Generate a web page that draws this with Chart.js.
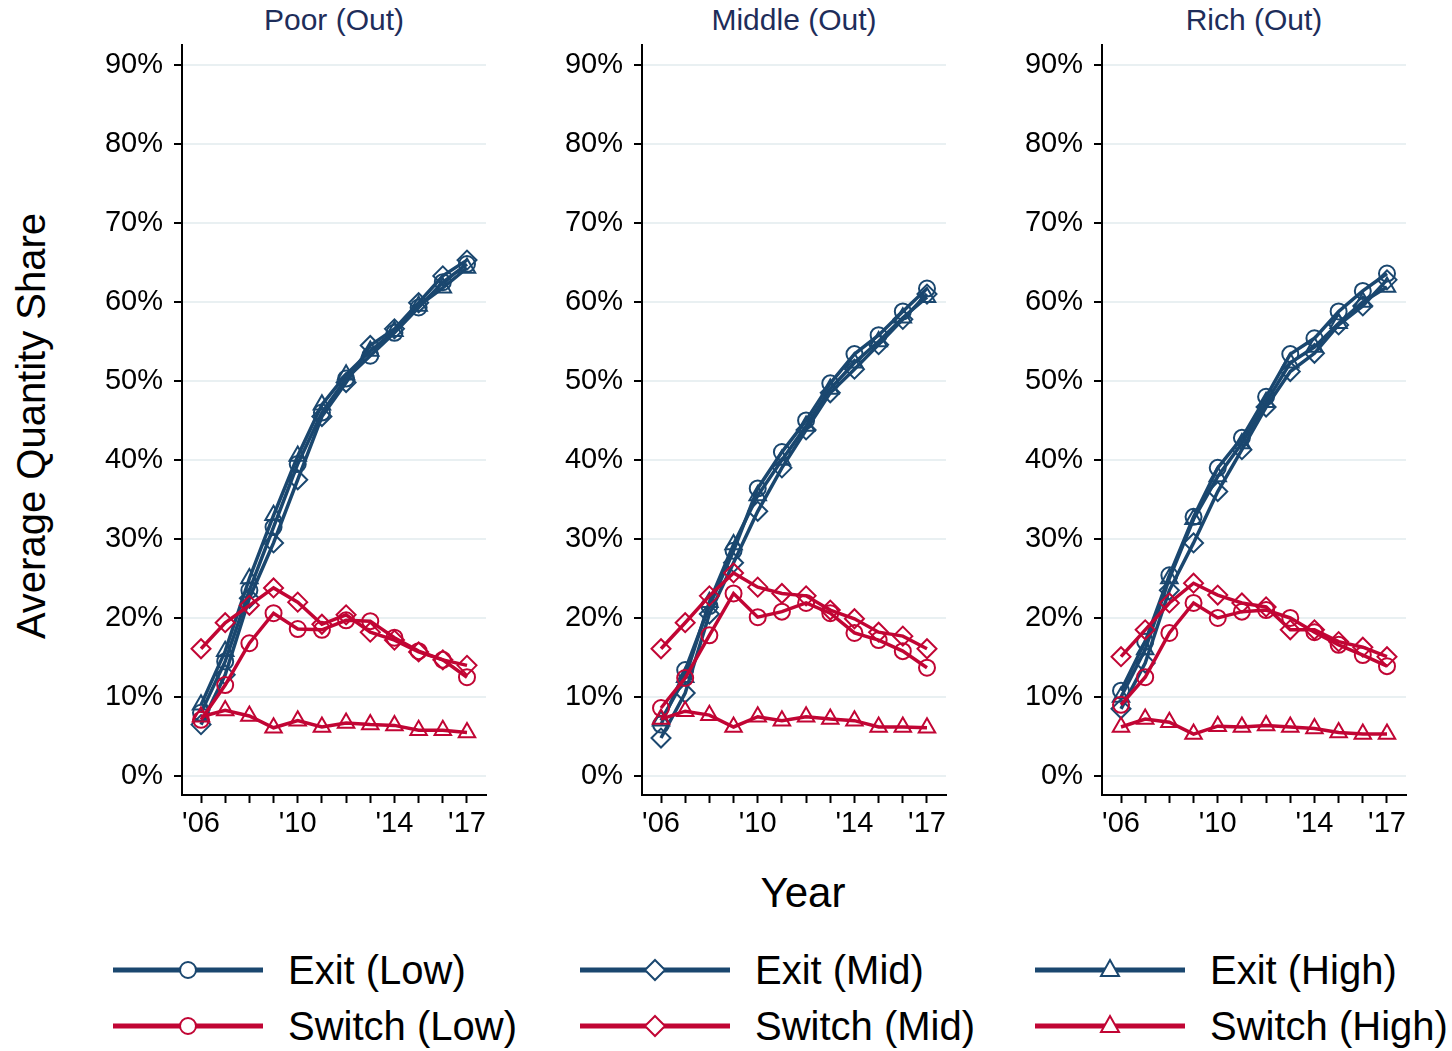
<!DOCTYPE html>
<html>
<head>
<meta charset="utf-8">
<title>Average Quantity Share</title>
<script src="https://cdn.jsdelivr.net/npm/chart.js@4.4.0/dist/chart.umd.min.js"></script>
<style>
    body {
        margin: 0;
        width: 1452px;
        height: 1051px;
        overflow: hidden;
        position: relative;
        background: #fff;
        font-family: "Liberation Sans", Arial, sans-serif;
        color: #000;
    }
    .panel { position: absolute; top: 0; }
    .ptitle {
        position: absolute;
        top: 0;
        width: 304px;
        line-height: 40px;
        text-align: center;
        font-size: 30px;
        color: #1e2d5a;
        white-space: nowrap;
    }
    .axtitle {
        position: absolute;
        font-size: 40px;
        white-space: nowrap;
        transform: translate(-50%, -50%);
    }
    .legend-item { position: absolute; height: 40px; }
    .legend-item svg { position: absolute; left: 0; top: 5px; }
    .legend-item span {
        position: absolute;
        left: 175px;
        top: 0;
        line-height: 40px;
        font-size: 40px;
        white-space: nowrap;
    }
</style>
</head>
<body>

<div class="axtitle" style="left:31px; top:426px; transform:translate(-50%,-50%) rotate(-90deg);">Average Quantity Share</div>
<div class="axtitle" style="left:803px; top:893px; font-size:42px;">Year</div>

<div id="panels"></div>
<div id="legend"></div>

<script>
    'use strict';

    // ---- data (percent) ----
    const YEARS = [2006, 2007, 2008, 2009, 2010, 2011, 2012, 2013, 2014, 2015, 2016, 2017];
    const X_TICK_LABELS = { 2006: "'06", 2010: "'10", 2014: "'14", 2017: "'17" };
    const Y_TICKS = [0, 10, 20, 30, 40, 50, 60, 70, 80, 90];
    const PANEL_TITLES = ['Poor (Out)', 'Middle (Out)', 'Rich (Out)'];
    const SERIES_LABELS = ['Exit (Low)', 'Switch (Low)', 'Exit (Mid)', 'Switch (Mid)', 'Exit (High)', 'Switch (High)'];

    // Poor (Out)
    const POOR_EXIT_LOW     = [8.0, 14.5, 23.5, 31.5, 39.5, 46.0, 50.3, 53.2, 56.1, 59.3, 62.5, 64.8];
    const POOR_SWITCH_LOW   = [7.1, 11.5, 16.8, 20.6, 18.6, 18.5, 19.7, 19.6, 17.5, 15.8, 14.7, 12.5];
    const POOR_EXIT_MID     = [6.5, 12.8, 22.5, 29.5, 37.5, 45.5, 49.8, 54.5, 56.6, 59.9, 63.3, 65.3];
    const POOR_SWITCH_MID   = [16.1, 19.4, 21.6, 23.8, 22.0, 19.2, 20.4, 18.2, 17.2, 15.7, 14.7, 14.0];
    const POOR_EXIT_HIGH    = [9.0, 15.8, 25.0, 33.0, 40.5, 47.0, 50.8, 53.8, 56.3, 59.5, 61.8, 64.3];
    const POOR_SWITCH_HIGH  = [7.5, 8.3, 7.6, 6.1, 7.0, 6.2, 6.7, 6.5, 6.4, 5.8, 5.8, 5.5];

    // Middle (Out)
    const MID_EXIT_LOW      = [6.5, 13.4, 21.5, 28.5, 36.4, 41.0, 45.0, 49.7, 53.4, 55.8, 58.8, 61.7];
    const MID_SWITCH_LOW    = [8.6, 12.4, 17.8, 23.1, 20.1, 20.8, 21.9, 20.6, 18.1, 17.2, 15.8, 13.7];
    const MID_EXIT_MID      = [4.8, 10.5, 20.5, 27.0, 33.5, 39.0, 43.8, 48.5, 51.5, 54.6, 57.8, 61.0];
    const MID_SWITCH_MID    = [16.1, 19.4, 22.8, 25.7, 23.9, 23.1, 22.8, 21.0, 19.9, 18.2, 17.7, 16.1];
    const MID_EXIT_HIGH     = [7.0, 12.5, 22.0, 29.3, 35.5, 40.0, 44.3, 49.0, 52.3, 55.0, 58.0, 60.6];
    const MID_SWITCH_HIGH   = [7.2, 8.2, 7.7, 6.2, 7.5, 7.0, 7.5, 7.2, 7.0, 6.2, 6.2, 6.1];

    // Rich (Out)
    const RICH_EXIT_LOW     = [10.8, 17.0, 25.4, 32.8, 39.0, 42.8, 48.0, 53.4, 55.4, 58.8, 61.4, 63.6];
    const RICH_SWITCH_LOW   = [9.0, 12.5, 18.1, 21.9, 20.0, 20.8, 21.0, 20.0, 18.2, 16.6, 15.3, 13.9];
    const RICH_EXIT_MID     = [8.5, 14.3, 23.5, 29.5, 36.0, 41.3, 46.7, 51.2, 53.5, 57.1, 59.5, 62.8];
    const RICH_SWITCH_MID   = [15.1, 18.5, 21.9, 24.4, 22.9, 21.9, 21.4, 18.5, 18.5, 17.0, 16.3, 15.1];
    const RICH_EXIT_HIGH    = [10.0, 16.0, 25.0, 32.5, 37.9, 42.1, 47.3, 52.3, 54.3, 57.3, 60.0, 61.9];
    const RICH_SWITCH_HIGH  = [6.2, 7.2, 6.8, 5.3, 6.3, 6.2, 6.4, 6.2, 6.0, 5.5, 5.3, 5.3];

    const PANEL_DATA = [
        [POOR_EXIT_LOW, POOR_SWITCH_LOW, POOR_EXIT_MID, POOR_SWITCH_MID, POOR_EXIT_HIGH, POOR_SWITCH_HIGH],
        [MID_EXIT_LOW, MID_SWITCH_LOW, MID_EXIT_MID, MID_SWITCH_MID, MID_EXIT_HIGH, MID_SWITCH_HIGH],
        [RICH_EXIT_LOW, RICH_SWITCH_LOW, RICH_EXIT_MID, RICH_SWITCH_MID, RICH_EXIT_HIGH, RICH_SWITCH_HIGH]
    ];

    // ---- styles ----
    const NAVY = '#1a476f';
    const CRANBERRY = '#c10534';
    const SERIES_COLORS = [NAVY, CRANBERRY, NAVY, CRANBERRY, NAVY, CRANBERRY];
    const SERIES_MARKERS = ['circle', 'circle', 'rectRot', 'rectRot', 'triangle', 'triangle'];
    const MARKER_RADIUS = { circle: 8, rectRot: 9.5, triangle: 9.5 };

    const FONT = '"Liberation Sans", Arial, sans-serif';
    Chart.defaults.font.family = FONT;
    Chart.defaults.color = '#000';

    const PANEL_LEFT = [60, 520, 980];
    const CANVAS_W = 430;
    const CANVAS_H = 815;
    const Y_AXIS_W = 122;

    function buildPanel(idx) {
        const wrap = document.createElement('div');
        wrap.className = 'panel';
        wrap.style.left = PANEL_LEFT[idx] + 'px';

        const title = document.createElement('div');
        title.className = 'ptitle';
        title.style.left = Y_AXIS_W + 'px';
        title.textContent = PANEL_TITLES[idx];
        wrap.appendChild(title);

        const canvas = document.createElement('canvas');
        canvas.width = CANVAS_W;
        canvas.height = CANVAS_H;
        canvas.style.position = 'absolute';
        canvas.style.left = '0px';
        canvas.style.top = '40px';
        wrap.appendChild(canvas);
        document.getElementById('panels').appendChild(wrap);

        const datasets = PANEL_DATA[idx].map((values, i) => ({
            label: SERIES_LABELS[i],
            data: YEARS.map((yr, j) => ({ x: yr, y: values[j] })),
            borderColor: SERIES_COLORS[i],
            backgroundColor: 'transparent',
            borderWidth: 3.5,
            tension: 0,
            pointStyle: SERIES_MARKERS[i],
            pointRadius: MARKER_RADIUS[SERIES_MARKERS[i]],
            pointBorderWidth: 2,
            pointBorderColor: SERIES_COLORS[i],
            pointBackgroundColor: 'transparent',
            // red series drawn above the blue ones
            order: SERIES_COLORS[i] === CRANBERRY ? 0 : 1
        }));

        new Chart(canvas, {
            type: 'line',
            data: { datasets },
            options: {
                responsive: false,
                animation: false,
                events: [],
                layout: { autoPadding: false, padding: { top: 5, right: 4, left: 0, bottom: 0 } },
                plugins: { legend: { display: false }, tooltip: { enabled: false } },
                scales: {
                    x: {
                        type: 'linear',
                        min: 2005.214,
                        max: 2017.786,
                        afterBuildTicks: scale => { scale.ticks = YEARS.map(v => ({ value: v })); },
                        afterFit: scale => {
                            scale.height = 60;
                            scale.paddingLeft = 0;
                            scale.paddingRight = 0;
                        },
                        ticks: {
                            autoSkip: false,
                            maxRotation: 0,
                            padding: 4,
                            font: { size: 29 },
                            color: '#000',
                            callback: v => X_TICK_LABELS[v] || ''
                        },
                        grid: { drawOnChartArea: false, tickLength: 8, tickColor: '#000', tickWidth: 2 },
                        border: { display: true, color: '#000', width: 2 }
                    },
                    y: {
                        min: -2.41,
                        max: 92.53,
                        afterBuildTicks: scale => { scale.ticks = Y_TICKS.map(v => ({ value: v })); },
                        afterFit: scale => {
                            scale.width = Y_AXIS_W;
                            scale.paddingTop = 0;
                            scale.paddingBottom = 0;
                        },
                        ticks: {
                            padding: 11,
                            font: { size: 29 },
                            color: '#000',
                            callback: v => v + '%'
                        },
                        grid: { color: '#e9f0f2', lineWidth: 2, tickLength: 8, tickColor: '#000', tickWidth: 2 },
                        border: { display: true, color: '#000', width: 2 }
                    }
                }
            }
        });
    }

    // ---- legend ----
    const LEGEND_X = [113, 580, 1035];
    const LEGEND_Y = [950, 1006];

    function markerSvg(marker, color) {
        const cx = 75, cy = 15;
        if (marker === 'circle') {
            return `<circle cx="${cx}" cy="${cy}" r="8" fill="#fff" stroke="${color}" stroke-width="2"/>`;
        }
        if (marker === 'rectRot') {
            return `<polygon points="${cx},${cy - 10} ${cx + 10},${cy} ${cx},${cy + 10} ${cx - 10},${cy}" fill="#fff" stroke="${color}" stroke-width="2"/>`;
        }
        return `<polygon points="${cx},${cy - 10} ${cx + 9},${cy + 6} ${cx - 9},${cy + 6}" fill="#fff" stroke="${color}" stroke-width="2"/>`;
    }

    function buildLegend() {
        const box = document.getElementById('legend');
        SERIES_LABELS.forEach((label, i) => {
            const col = Math.floor(i / 2);
            const row = i % 2;
            const item = document.createElement('div');
            item.className = 'legend-item';
            item.style.left = LEGEND_X[col] + 'px';
            item.style.top = LEGEND_Y[row] + 'px';
            item.innerHTML =
                `<svg width="150" height="30" viewBox="0 0 150 30">` +
                `<line x1="0" y1="15" x2="150" y2="15" stroke="${SERIES_COLORS[i]}" stroke-width="5"/>` +
                markerSvg(SERIES_MARKERS[i], SERIES_COLORS[i]) +
                `</svg><span>${label}</span>`;
            box.appendChild(item);
        });
    }

    PANEL_TITLES.forEach((t, i) => buildPanel(i));
    buildLegend();
</script>
</body>
</html>
